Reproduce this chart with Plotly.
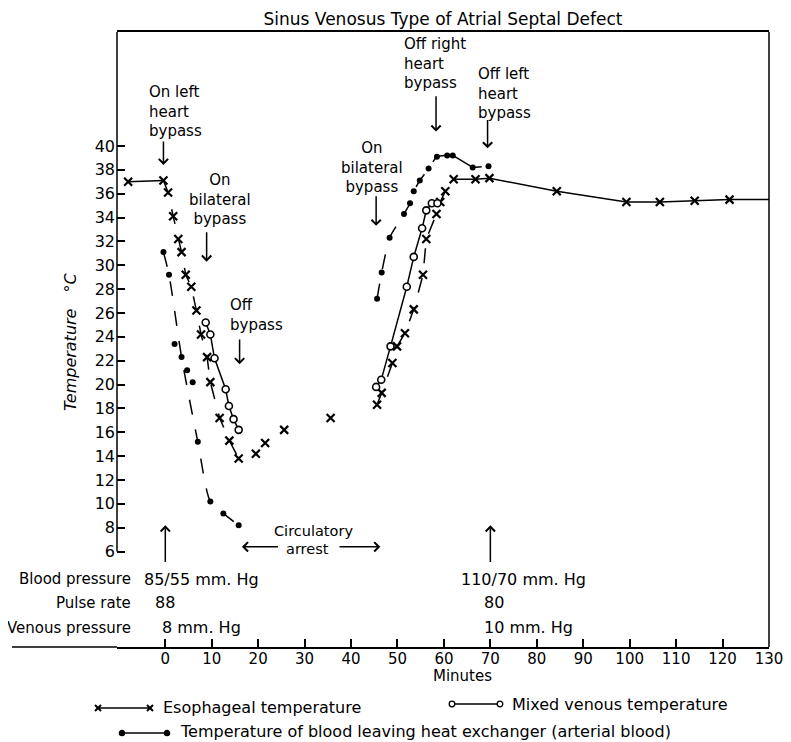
import plotly.graph_objects as go

# ---------------- data ----------------
esoph_min = [-8.0, -0.4, 0.6, 1.7, 2.8, 3.5, 4.4, 5.6, 6.7, 7.7, 9.0, 9.7, 11.7, 13.8, 15.8,
             19.5, 21.5, 25.6, 35.6,
             45.6, 46.6, 48.9, 49.9, 51.6, 53.5, 55.5, 56.2, 58.4, 59.2, 60.3, 62.1, 66.8, 69.8,
             84.3, 99.3, 106.5, 114.0, 121.5]
esoph_temp = [37.0, 37.1, 36.1, 34.1, 32.2, 31.1, 29.2, 28.2, 26.2, 24.2, 22.3, 20.2, 17.2, 15.3, 13.8,
              14.2, 15.1, 16.2, 17.2,
              18.3, 19.3, 21.8, 23.2, 24.3, 26.3, 29.2, 32.2, 34.3, 35.3, 36.2, 37.2, 37.2, 37.3,
              36.2, 35.3, 35.3, 35.4, 35.5]
esoph_end_min = [130.0]
esoph_end_temp = [35.5]

venous_min = [8.7, 9.7, 10.6, 13.0, 13.7, 14.7, 15.8,
              45.4, 46.5, 48.5, 52.0, 53.5, 55.3, 56.2, 57.4, 58.6]
venous_temp = [25.2, 24.2, 22.2, 19.6, 18.2, 17.1, 16.2,
               19.8, 20.4, 23.2, 28.2, 30.7, 33.1, 34.6, 35.2, 35.2]

art_min = [-0.4, 0.8, 2.0, 3.5, 4.7, 5.9, 7.0, 9.7, 12.5, 15.8,
           45.6, 46.6, 48.3, 51.4, 52.7, 53.5, 54.8, 56.7, 58.5, 60.7, 61.9, 66.2, 69.6]
art_temp = [31.1, 29.2, 23.4, 22.3, 21.2, 20.2, 15.2, 10.2, 9.2, 8.2,
            27.2, 29.4, 32.3, 34.3, 35.2, 36.2, 37.1, 38.1, 39.1, 39.2, 39.2, 38.2, 38.3]

x_ticks = list(range(0, 131, 10))
y_ticks = list(range(6, 41, 2))

event_labels = ["On left<br>heart<br>bypass", "On<br>bilateral<br>bypass", "Off<br>bypass",
                "On<br>bilateral<br>bypass", "Off right<br>heart<br>bypass", "Off left<br>heart<br>bypass"]
event_times = [-0.4, 8.9, 16.0, 45.4, 58.3, 69.4]

arrest_start = 16.5
arrest_end = 46.3

vital_times = [0, 70]
blood_pressure = ["85/55 mm. Hg", "110/70 mm. Hg"]
pulse_rate = ["88", "80"]
venous_pressure = ["8 mm. Hg", "10 mm. Hg"]
vital_names = ["Blood pressure", "Pulse rate", "Venous pressure"]

legend_labels = ["Esophageal temperature", "Mixed venous temperature",
                 "Temperature of blood leaving heat exchanger (arterial blood)"]

# ---------------- styling ----------------
FONT = "DejaVu Sans"
BLACK = "black"
LW = 1.5
OFF = 8                      # page body margin of the html page
W, H = 791 - OFF, 742 - OFF
ML, MR, MT, MB = 117 - OFF, 22, 32 - OFF, 95
XR = [-10.4, 130]
YR = [-2.0, 49.55]
PW = W - ML - MR
PH = H - MT - MB


def px_x(p):
    """screen pixel (reference picture) -> paper x"""
    return (p - OFF - ML) / PW


def px_y(p):
    """screen pixel (reference picture) -> paper y"""
    return (H - MB - (p - OFF)) / PH


fig = go.Figure()


def line(xs, ys, dash="solid", shape="linear", smoothing=1.0):
    fig.add_trace(go.Scatter(x=xs, y=ys, mode="lines",
                             line=dict(color=BLACK, width=LW, dash=dash, shape=shape,
                                       smoothing=smoothing if shape == "spline" else None),
                             hoverinfo="skip", showlegend=False))


def sub(xs, ys, i0, i1):
    return xs[i0:i1], ys[i0:i1]


# esophageal line pieces
line(*sub(esoph_min, esoph_temp, 0, 2))
line(*sub(esoph_min, esoph_temp, 1, 15), dash="longdash")
line(*sub(esoph_min, esoph_temp, 19, 31), dash="longdash")
line(esoph_min[30:] + esoph_end_min, esoph_temp[30:] + esoph_end_temp)

# mixed venous line pieces
line(*sub(venous_min, venous_temp, 0, 7))
line(*sub(venous_min, venous_temp, 7, 16))

# arterial line pieces
art_curve_idx = [0, 1, 3, 6, 7, 8, 9]
line([art_min[i] for i in art_curve_idx], [art_temp[i] for i in art_curve_idx],
     dash="longdash", shape="spline", smoothing=0.7)
line(*sub(art_min, art_temp, 10, 21), dash="longdash", shape="spline", smoothing=0.5)
line(*sub(art_min, art_temp, 20, 22))
line(*sub(art_min, art_temp, 21, 23), dash="dash")

# markers
fig.add_trace(go.Scatter(x=esoph_min, y=esoph_temp, mode="markers",
                         marker=dict(symbol="x-thin", size=8, line=dict(color=BLACK, width=2.2)),
                         showlegend=False, hoverinfo="skip"))
fig.add_trace(go.Scatter(x=venous_min, y=venous_temp, mode="markers",
                         marker=dict(symbol="circle", size=7, color="white",
                                     line=dict(color=BLACK, width=1.6)),
                         showlegend=False, hoverinfo="skip"))
fig.add_trace(go.Scatter(x=art_min, y=art_temp, mode="markers",
                         marker=dict(symbol="circle", size=6, color=BLACK),
                         showlegend=False, hoverinfo="skip"))

ann = []
TF = dict(family=FONT, size=15, color=BLACK)

# event annotations: (text x, text y, xanchor, tail y, head y)
event_style = [
    (-3.9, 42.9, "left", 40.5, 38.4),
    (11.8, 35.5, "center", 32.9, 30.3),
    (13.5, 25.8, "left", 23.9, 21.7),
    (44.5, 38.2, "center", 35.9, 33.3),
    (51.0, 46.9, "left", 44.3, 41.2),
    (67.0, 44.4, "left", 42.3, 39.8),
]
for lab, t, (tx, ty, xa, tail, head) in zip(event_labels, event_times, event_style):
    ann.append(dict(x=tx, y=ty, xref="x", yref="y", text=lab, showarrow=False,
                    xanchor=xa, yanchor="middle", align=xa, font=TF))
    ann.append(dict(x=t, y=head, ax=t, ay=tail, xref="x", yref="y", axref="x", ayref="y",
                    text="", showarrow=True, arrowhead=4, arrowsize=1.2, arrowwidth=1.5,
                    arrowcolor=BLACK))

# circulatory arrest
ann.append(dict(x=32.0, y=7.75, xref="x", yref="y", text="Circulatory", showarrow=False,
                yanchor="middle", font=dict(family=FONT, size=14.5, color=BLACK)))
ann.append(dict(x=30.7, y=6.2, xref="x", yref="y", text="arrest", showarrow=False,
                yanchor="middle", font=dict(family=FONT, size=14.5, color=BLACK)))
ann.append(dict(x=arrest_start, y=6.4, ax=24.6, ay=6.4, xref="x", yref="y", axref="x", ayref="y",
                text="", showarrow=True, arrowhead=4, arrowsize=1.2, arrowwidth=1.5, arrowcolor=BLACK))
ann.append(dict(x=arrest_end, y=6.4, ax=37.2, ay=6.4, xref="x", yref="y", axref="x", ayref="y",
                text="", showarrow=True, arrowhead=4, arrowsize=1.2, arrowwidth=1.5, arrowcolor=BLACK))

# vitals
for t in vital_times:
    ann.append(dict(x=t, y=8.2, ax=t, ay=5.0, xref="x", yref="y", axref="x", ayref="y",
                    text="", showarrow=True, arrowhead=4, arrowsize=1.2, arrowwidth=1.5,
                    arrowcolor=BLACK))
row_y = [3.7, 1.7, -0.4]
for name, yy in zip(vital_names, row_y):
    ann.append(dict(x=px_x(133), y=yy, xref="paper", yref="y", text=name, showarrow=False,
                    xanchor="right", yanchor="middle", font=TF))
vals = [blood_pressure, pulse_rate, venous_pressure]
offs = [(-5.0, -6.7), (-2.6, -1.8), (-1.1, -1.8)]
for v, yy, (o0, o1) in zip(vals, row_y, offs):
    ann.append(dict(x=vital_times[0] + o0, y=yy, xref="x", yref="y", text=v[0], showarrow=False,
                    xanchor="left", yanchor="middle", font=dict(family=FONT, size=16, color=BLACK)))
    ann.append(dict(x=vital_times[1] + o1, y=yy, xref="x", yref="y", text=v[1], showarrow=False,
                    xanchor="left", yanchor="middle", font=dict(family=FONT, size=16, color=BLACK)))

# axis titles
ann.append(dict(x=64.0, y=px_y(676), xref="x", yref="paper", text="Minutes", showarrow=False,
                xanchor="center", yanchor="middle", font=dict(family=FONT, size=15, color=BLACK)))
ann.append(dict(x=px_x(70), y=px_y(342), xref="paper", yref="paper",
                text="<i>Temperature\u2003°C</i>", textangle=-90, showarrow=False,
                xanchor="center", yanchor="middle",
                font=dict(family=FONT, size=16, color=BLACK)))

# legend texts
LF = dict(family=FONT, size=16, color=BLACK)
ann.append(dict(x=px_x(161), y=px_y(707), xref="paper", yref="paper", text=legend_labels[0],
                showarrow=False, xanchor="left", yanchor="middle", font=LF))
ann.append(dict(x=px_x(510), y=px_y(704), xref="paper", yref="paper", text=legend_labels[1],
                showarrow=False, xanchor="left", yanchor="middle", font=LF))
ann.append(dict(x=px_x(178), y=px_y(731), xref="paper", yref="paper", text=legend_labels[2],
                showarrow=False, xanchor="left", yanchor="middle", font=LF))

shapes = []
LN = dict(color=BLACK, width=LW)
# frame
shapes.append(dict(type="line", xref="paper", yref="paper", x0=1, x1=1, y0=0, y1=1, line=LN))
shapes.append(dict(type="line", xref="paper", yref="y", x0=0, x1=0, y0=6, y1=YR[1], line=LN))
shapes.append(dict(type="line", xref="paper", yref="paper", x0=px_x(12), x1=0, y0=0, y1=0, line=LN))


# legend glyphs
def glyph_x(cx, cy):
    for d in (1, -1):
        shapes.append(dict(type="line", xref="paper", yref="paper", xsizemode="pixel",
                           ysizemode="pixel", xanchor=px_x(cx), yanchor=px_y(cy),
                           x0=-3, x1=3, y0=-3 * d, y1=3 * d, line=dict(color=BLACK, width=2)))


def glyph_circle(cx, cy, r, filled):
    shapes.append(dict(type="circle", xref="paper", yref="paper", xsizemode="pixel",
                       ysizemode="pixel", xanchor=px_x(cx), yanchor=px_y(cy),
                       x0=-r, x1=r, y0=-r, y1=r, fillcolor=BLACK if filled else "white",
                       line=dict(color=BLACK, width=1.3)))


def legend_line(xa, xb, yy):
    shapes.append(dict(type="line", xref="paper", yref="paper", x0=px_x(xa), x1=px_x(xb),
                       y0=px_y(yy), y1=px_y(yy), line=LN))


legend_line(98, 150, 708)
glyph_x(98, 708)
glyph_x(150, 708)
legend_line(452, 500, 704)
glyph_circle(452, 704, 2.8, False)
glyph_circle(500, 704, 2.8, False)
legend_line(122, 167, 733)
glyph_circle(122, 733, 2.6, True)
glyph_circle(167, 733, 2.6, True)

fig.update_layout(
    template="none",
    width=W, height=H,
    autosize=False,
    margin=dict(l=ML, r=MR, t=MT, b=MB, pad=0, autoexpand=False),
    paper_bgcolor="white", plot_bgcolor="white",
    font=dict(family=FONT, color=BLACK),
    title=dict(text="Sinus Venosus Type of Atrial Septal Defect", x=(443 - OFF) / W,
               xanchor="center", y=1 - (19 - OFF) / H, yanchor="middle",
               font=dict(family=FONT, size=17, color=BLACK)),
    showlegend=False,
    annotations=ann,
    shapes=shapes,
    xaxis=dict(range=XR, tickvals=x_ticks, ticktext=[str(v) for v in x_ticks],
               ticks="inside", ticklen=8, tickwidth=1.5, tickcolor=BLACK, automargin=False,
               showline=True, linecolor=BLACK, linewidth=LW, mirror=True,
               ticklabelstandoff=-3,
               showgrid=False, zeroline=False, tickfont=dict(family=FONT, size=15, color=BLACK)),
    yaxis=dict(range=YR, tickvals=y_ticks, ticktext=[str(v) for v in y_ticks],
               ticks="inside", ticklen=8, tickwidth=1.5, tickcolor=BLACK, automargin=False,
               showline=False, showgrid=False, zeroline=False,
               ticklabelstandoff=1,
               tickfont=dict(family=FONT, size=16, color=BLACK)),
)

fig.write_html("out.html")
